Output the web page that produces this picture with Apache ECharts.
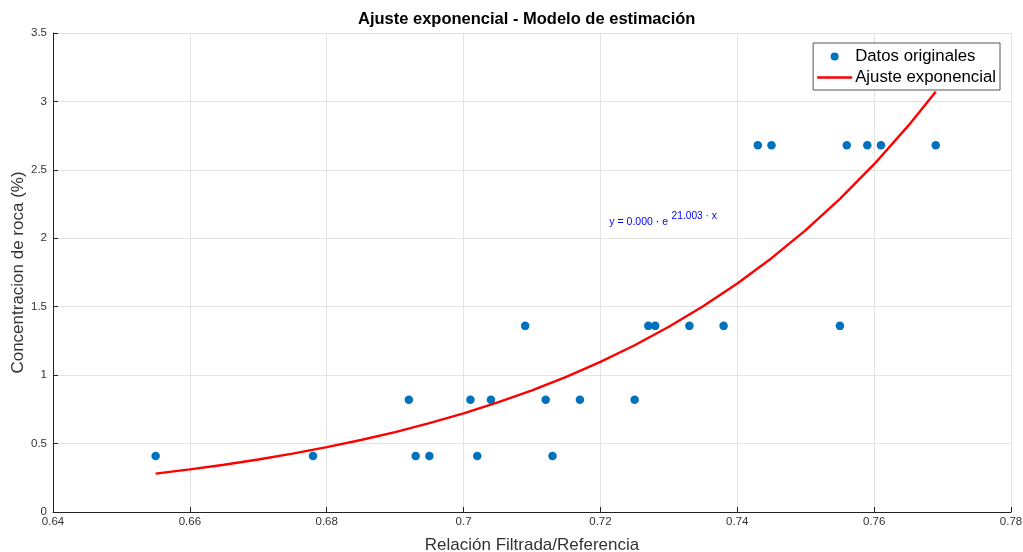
<!DOCTYPE html>
<html>
<head>
<meta charset="utf-8">
<style>
  html, body { margin: 0; padding: 0; background: #fff; }
  #chart { width: 1023px; height: 552px; }
</style>
<script src="https://cdn.jsdelivr.net/npm/echarts@6/dist/echarts.min.js"></script>
</head>
<body>
<div id="chart"></div>
<script>
// Measured samples: relation filtered/reference vs rock concentration
const relacion = [0.655, 0.678, 0.692, 0.693, 0.695, 0.701, 0.702, 0.704, 0.709, 0.712,
                  0.713, 0.717, 0.725, 0.727, 0.728, 0.733, 0.738, 0.743, 0.745, 0.755,
                  0.756, 0.759, 0.761, 0.769];
const concentracion = [0.41, 0.41, 0.82, 0.41, 0.41, 0.82, 0.41, 0.82, 1.36, 0.82,
                       0.41, 0.82, 0.82, 1.36, 1.36, 1.36, 1.36, 2.68, 2.68, 1.36,
                       2.68, 2.68, 2.68, 2.68];

// Exponential fit y = a * e^(b x)
const fitA = 2.97e-7;
const fitB = 21.003;
const fitX = [0.655, 0.66, 0.665, 0.67, 0.675, 0.68, 0.685, 0.69, 0.695, 0.70, 0.705,
              0.71, 0.715, 0.72, 0.725, 0.73, 0.735, 0.74, 0.745, 0.75, 0.755, 0.76,
              0.765, 0.769];

const xTicks = [0.64, 0.66, 0.68, 0.7, 0.72, 0.74, 0.76, 0.78];
const yTicks = [0, 0.5, 1, 1.5, 2, 2.5, 3, 3.5];

const puntos = relacion.map((x, i) => [x, concentracion[i]]);
const curva = fitX.map(x => [x, fitA * Math.exp(fitB * x)]);

const font = 'Liberation Sans, Arial, sans-serif';
const eqStyle = { fontFamily: font, color: '#0000ff' };
const chart = echarts.init(document.getElementById('chart'));
chart.setOption({
  animation: false,
  backgroundColor: '#ffffff',
  textStyle: { fontFamily: font },
  title: {
    text: 'Ajuste exponencial - Modelo de estimación',
    left: 358,
    top: 11,
    padding: 0,
    textStyle: { fontFamily: font, fontSize: 16.5, fontWeight: 'bold', color: '#000' }
  },
  legend: {
    orient: 'vertical',
    right: 23,
    top: 43,
    padding: [5, 4, 4, 4],
    itemGap: 4,
    itemWidth: 35,
    itemHeight: 8,
    borderColor: '#555',
    borderWidth: 1,
    backgroundColor: '#fff',
    textStyle: { fontFamily: font, fontSize: 16.8, color: '#000', padding: [0, 0, 0, -2] },
    data: [
      { name: 'Datos originales', icon: 'circle' },
      { name: 'Ajuste exponencial', icon: 'path://M0,0 L35,0 L35,2.4 L0,2.4 Z' }
    ]
  },
  grid: { left: 53, right: 12, top: 33, bottom: 40, containLabel: false, outerBoundsMode: 'none' },
  xAxis: {
    type: 'value',
    min: xTicks[0],
    max: xTicks[xTicks.length - 1],
    interval: 0.02,
    name: 'Relación Filtrada/Referencia',
    nameLocation: 'middle',
    nameGap: 25,
    nameTextStyle: { fontFamily: font, fontSize: 17, color: '#333' },
    axisLine: { show: true, onZero: false, lineStyle: { color: '#222', width: 1 } },
    axisTick: { show: true, inside: true, length: 5, lineStyle: { color: '#222' } },
    axisLabel: {
      fontFamily: font, fontSize: 11.5, color: '#333', margin: 4,
      formatter: v => String(parseFloat(v.toFixed(2)))
    },
    splitLine: { show: true, lineStyle: { color: '#e3e3e3', width: 1 } }
  },
  yAxis: {
    type: 'value',
    min: yTicks[0],
    max: yTicks[yTicks.length - 1],
    interval: 0.5,
    name: 'Concentracion de roca (%)',
    nameLocation: 'middle',
    nameGap: 26,
    nameMoveOverlap: false,
    nameTextStyle: { fontFamily: font, fontSize: 17, color: '#333' },
    axisLine: { show: true, onZero: false, lineStyle: { color: '#222', width: 1 } },
    axisTick: { show: true, inside: true, length: 5, lineStyle: { color: '#222' } },
    axisLabel: { fontFamily: font, fontSize: 11.5, color: '#333', margin: 6 },
    splitLine: { show: true, lineStyle: { color: '#e3e3e3', width: 1 } }
  },
  series: [
    {
      name: 'Datos originales',
      type: 'scatter',
      data: puntos,
      symbol: 'circle',
      symbolSize: 8.5,
      itemStyle: { color: '#0072BD', opacity: 1 },
      z: 3
    },
    {
      name: 'Ajuste exponencial',
      type: 'line',
      data: curva,
      showSymbol: false,
      smooth: false,
      lineStyle: { color: '#ff0000', width: 2.4 },
      itemStyle: { color: '#ff0000' },
      z: 4,
      markPoint: {
        symbol: 'circle',
        symbolSize: 0,
        silent: true,
        label: { show: true, position: 'right', distance: 0 },
        data: [
          // fitted equation: base text and raised exponent
          {
            coord: [0.7213, 2.12],
            label: { formatter: 'y = 0.000 · e', ...eqStyle, fontSize: 10.5 }
          },
          {
            coord: [0.7304, 2.165],
            label: { formatter: '21.003 · x', ...eqStyle, fontSize: 10.2 }
          }
        ]
      }
    }
  ]
});
</script>
</body>
</html>
